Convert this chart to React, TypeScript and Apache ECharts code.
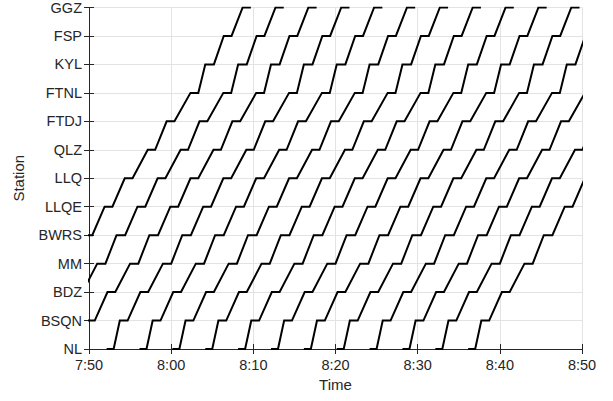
import React, { useEffect, useRef } from "react";
import * as echarts from "echarts";

// Stations from bottom (index 0) to top (index 12)
const stations = ["NL", "BSQN", "BDZ", "MM", "BWRS", "LLQE", "LLQ", "QLZ", "FTDJ", "FTNL", "KYL", "FSP", "GGZ"];

// Time tick labels (minutes after 7:50: 0,10,...,60)
const timeTicks = [0, 10, 20, 30, 40, 50, 60];
const timeLabels = ["7:50", "8:00", "8:10", "8:20", "8:30", "8:40", "8:50"];

// Running pattern of one train, minutes after its arrival at NL
const arriveOffsets = [0, 1.6, 4.1, 6.85, 9.2, 11.75, 14.2, 17.0, 19.3, 22.2, 24.0, 26.25, 28.55];
const departOffsets = [0.85, 2.55, 5.05, 7.85, 10.25, 12.7, 15.15, 17.9, 20.25, 23.15, 25.05, 27.2, 29.55];

// Arrival time of each train at NL, minutes after 7:50
const trainStarts = [-9.85, -5.85, -1.85, 2.15, 6.15, 10.15, 14.15, 18.15, 22.15, 26.15, 30.15, 34.15, 38.15, 42.15, 46.15];

const FONT = "'Liberation Sans', Arial, Helvetica, sans-serif";
const AXIS_COLOR = "#262626";
const GRID_COLOR = "#e3e3e3";

export default function App() {
  const ref = useRef<HTMLDivElement>(null);

  useEffect(() => {
    if (!ref.current) return;
    const chart = echarts.init(ref.current, undefined, { renderer: "svg" });

    const series = trainStarts.map((start, i) => {
      const pts: number[][] = [];
      stations.forEach((_, s) => {
        pts.push([start + arriveOffsets[s], s]);
        pts.push([start + departOffsets[s], s]);
      });
      return {
        type: "line",
        name: "train" + i,
        data: pts,
        xAxisIndex: 0,
        yAxisIndex: 0,
        showSymbol: false,
        symbol: "none",
        clip: true,
        lineStyle: { color: "#000", width: 2, join: "miter" },
        silent: true,
      };
    });

    const tickStyle = { inside: true, length: 5, lineStyle: { color: AXIS_COLOR, width: 1 } };
    const lineStyle = { show: true, lineStyle: { color: AXIS_COLOR, width: 1 } };

    chart.setOption({
      animation: false,
      grid: { left: 89, right: 31, top: 7, bottom: 52, containLabel: false },
      xAxis: [
        {
          type: "value",
          min: 0,
          max: 60,
          interval: 10,
          position: "bottom",
          axisLine: lineStyle,
          axisTick: tickStyle,
          splitLine: { show: true, lineStyle: { color: GRID_COLOR, width: 1 } },
          axisLabel: {
            color: AXIS_COLOR,
            fontFamily: FONT,
            fontSize: 14.5,
            margin: 8,
            formatter: (v: number) => timeLabels[timeTicks.indexOf(v)] ?? "",
          },
          name: "Time",
          nameLocation: "middle",
          nameGap: 27,
          nameTextStyle: { color: AXIS_COLOR, fontFamily: FONT, fontSize: 15 },
        },
        {
          type: "value",
          min: 0,
          max: 60,
          interval: 10,
          position: "top",
          axisLine: lineStyle,
          axisTick: tickStyle,
          splitLine: { show: false },
          axisLabel: { show: false },
        },
      ],
      yAxis: [
        {
          type: "value",
          min: 0,
          max: 12,
          interval: 1,
          position: "left",
          axisLine: lineStyle,
          axisTick: tickStyle,
          splitLine: { show: true, lineStyle: { color: GRID_COLOR, width: 1 } },
          axisLabel: {
            color: AXIS_COLOR,
            fontFamily: FONT,
            fontSize: 14.5,
            margin: 7,
            formatter: (v: number) => stations[v] ?? "",
          },
          name: "Station",
          nameLocation: "middle",
          nameGap: 63,
          nameTextStyle: { color: AXIS_COLOR, fontFamily: FONT, fontSize: 15 },
        },
        {
          type: "value",
          min: 0,
          max: 12,
          interval: 1,
          position: "right",
          axisLine: lineStyle,
          axisTick: tickStyle,
          splitLine: { show: false },
          axisLabel: { show: false },
        },
      ],
      series,
    });

    return () => chart.dispose();
  }, []);

  return (
    <div
      ref={ref}
      style={{ position: "fixed", left: 0, top: 0, width: 613, height: 401, background: "#fff" }}
    />
  );
}
